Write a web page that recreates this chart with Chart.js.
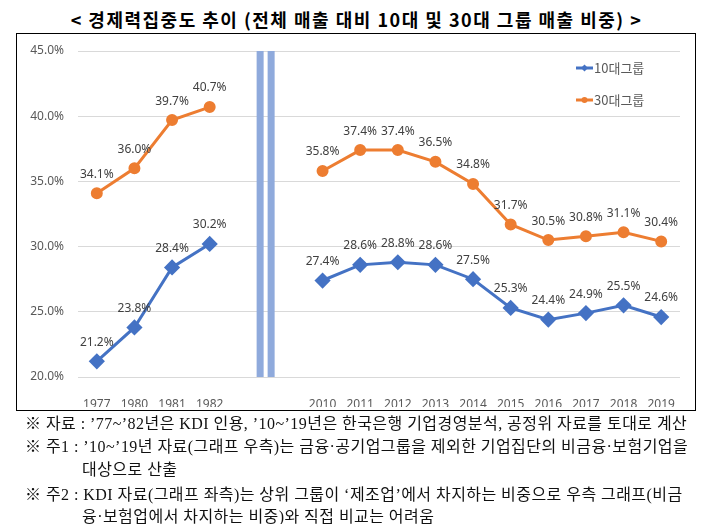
<!DOCTYPE html>
<html><head><meta charset="utf-8">
<script src="https://cdn.jsdelivr.net/npm/chart.js@4.4.1/dist/chart.umd.min.js"></script>
<style>
html,body{margin:0;padding:0;background:#fff;}
#wrap{position:relative;width:713px;height:524px;overflow:hidden;background:#fff;}
#title{position:absolute;left:0;top:5px;width:713px;text-align:center;font-weight:bold;font-size:18px;letter-spacing:1.5px;font-family:"Noto Sans CJK KR";line-height:28px;color:#000;}
#box{position:absolute;left:16px;top:33px;width:678px;height:376px;border:1.5px solid #000;}
canvas{position:absolute;left:0;top:0;}
.note{position:absolute;left:25px;font-size:16px;letter-spacing:0.45px;font-family:"Liberation Serif","Noto Sans CJK KR";white-space:nowrap;color:#111;line-height:20px;}
</style></head>
<body>
<div id="wrap">
  <div id="title">&lt; 경제력집중도 추이 (전체 매출 대비 10대 및 30대 그룹 매출 비중) &gt;</div>
  <div id="box"></div>
  <canvas id="c" width="713" height="524"></canvas>
  <div class="note" style="top:414px">※ 자료 : ’77~’82년은 KDI 인용, ’10~’19년은 한국은행 기업경영분석, 공정위 자료를 토대로 계산</div>
  <div class="note" style="top:437px">※ 주1 : ’10~’19년 자료(그래프 우측)는 금융·공기업그룹을 제외한 기업집단의 비금융·보험기업을</div>
  <div class="note" style="top:460px;left:82px">대상으로 산출</div>
  <div class="note" style="top:485px">※ 주2 : KDI 자료(그래프 좌측)는 상위 그룹이 ‘제조업’에서 차지하는 비중으로 우측 그래프(비금</div>
  <div class="note" style="top:507px;left:82px">융·보험업에서 차지하는 비중)와 직접 비교는 어려움</div>
</div>
<script>
const categories = ['1977','1980','1981','1982','','','2010','2011','2012','2013','2014','2015','2016','2017','2018','2019'];
const top10 = [21.2, 23.8, 28.4, 30.2, null, null, 27.4, 28.6, 28.8, 28.6, 27.5, 25.3, 24.4, 24.9, 25.5, 24.6];
const top30 = [34.1, 36.0, 39.7, 40.7, null, null, 35.8, 37.4, 37.4, 36.5, 34.8, 31.7, 30.5, 30.8, 31.1, 30.4];
const seriesNames = ['10대그룹', '30대그룹'];
const yTicks = [20, 25, 30, 35, 40, 45];
const breakAfterIndex = 4; // separator between the two periods

const BLUE = '#4472C4', ORANGE = '#ED7D31';

const separatorPlugin = {
  id: 'separator',
  beforeDatasetsDraw(chart) {
    const {ctx, scales: {x, y}} = chart;
    const mid = (x.getPixelForValue(breakAfterIndex) + x.getPixelForValue(breakAfterIndex + 1)) / 2;
    const top = y.getPixelForValue(yTicks[yTicks.length - 1]);
    const bot = y.getPixelForValue(yTicks[0]);
    ctx.save();
    ctx.fillStyle = '#8FAADC';
    ctx.fillRect(mid - 9.5, top, 7, bot - top);
    ctx.fillRect(mid + 1.5, top, 7, bot - top);
    ctx.restore();
  }
};

const labelPlugin = {
  id: 'valueLabels',
  afterDatasetsDraw(chart) {
    const {ctx} = chart;
    ctx.save();
    ctx.font = '12px "Noto Sans"';
    ctx.fillStyle = '#404040';
    ctx.textAlign = 'center';
    ctx.textBaseline = 'middle';
    chart.data.datasets.forEach((ds, di) => {
      const meta = chart.getDatasetMeta(di);
      meta.data.forEach((pt, i) => {
        const v = ds.data[i];
        if (v == null) return;
        ctx.fillText(v.toFixed(1) + '%', pt.x, pt.y - 19);
      });
    });
    ctx.restore();
  }
};

const legendPlugin = {
  id: 'innerLegend',
  afterDraw(chart) {
    const {ctx, chartArea} = chart;
    ctx.save();
    chart.data.datasets.forEach((ds, i) => {
      const lx = chartArea.right - 104;
      const ly = chartArea.top + 17 + i * 32;
      ctx.strokeStyle = ds.borderColor;
      ctx.lineWidth = 3;
      ctx.beginPath(); ctx.moveTo(lx, ly); ctx.lineTo(lx + 17, ly); ctx.stroke();
      ctx.fillStyle = ds.borderColor;
      ctx.beginPath();
      if (ds.pointStyle === 'rectRot') {
        ctx.moveTo(lx + 8.5, ly - 3.5); ctx.lineTo(lx + 12, ly); ctx.lineTo(lx + 8.5, ly + 3.5); ctx.lineTo(lx + 5, ly);
        ctx.closePath();
      } else {
        ctx.arc(lx + 8.5, ly, 3, 0, Math.PI * 2);
      }
      ctx.fill();
      ctx.fillStyle = '#595959';
      ctx.font = '13px "Noto Sans CJK KR"';
      ctx.textAlign = 'left';
      ctx.textBaseline = 'middle';
      ctx.fillText(ds.label, lx + 18, ly);
    });
    ctx.restore();
  }
};

new Chart(document.getElementById('c'), {
  type: 'line',
  data: {
    labels: categories,
    datasets: [
      {label: seriesNames[0], data: top10, borderColor: BLUE, backgroundColor: BLUE, borderWidth: 3,
       pointStyle: 'rectRot', pointRadius: 6, pointBackgroundColor: BLUE, pointBorderColor: BLUE, spanGaps: false, tension: 0},
      {label: seriesNames[1], data: top30, borderColor: ORANGE, backgroundColor: ORANGE, borderWidth: 3,
       pointStyle: 'circle', pointRadius: 4.5, pointBackgroundColor: ORANGE, pointBorderColor: ORANGE, spanGaps: false, tension: 0}
    ]
  },
  options: {
    responsive: false,
    animation: false,
    layout: {padding: {left: 18, right: 33, top: 51, bottom: 117}},
    plugins: {legend: {display: false}, tooltip: {enabled: false}},
    scales: {
      x: {
        type: 'category',
        offset: true,
        grid: {display: false},
        border: {display: false},
        ticks: {color: '#595959', font: {size: 12, family: 'Noto Sans'}, padding: 12, autoSkip: false, maxRotation: 0},
        afterFit(s) { s.height = 30; }
      },
      y: {
        min: yTicks[0], max: yTicks[yTicks.length - 1],
        afterBuildTicks(s) { s.ticks = yTicks.map(v => ({value: v})); },
        grid: {color: '#D9D9D9', drawTicks: false, lineWidth: 1},
        border: {display: false},
        ticks: {color: '#595959', font: {size: 12, family: 'Noto Sans'}, padding: 14,
                callback: v => v.toFixed(1) + '%'},
        afterFit(s) { s.width = 60; }
      }
    }
  },
  plugins: [separatorPlugin, labelPlugin, legendPlugin]
});
</script>
</body></html>
